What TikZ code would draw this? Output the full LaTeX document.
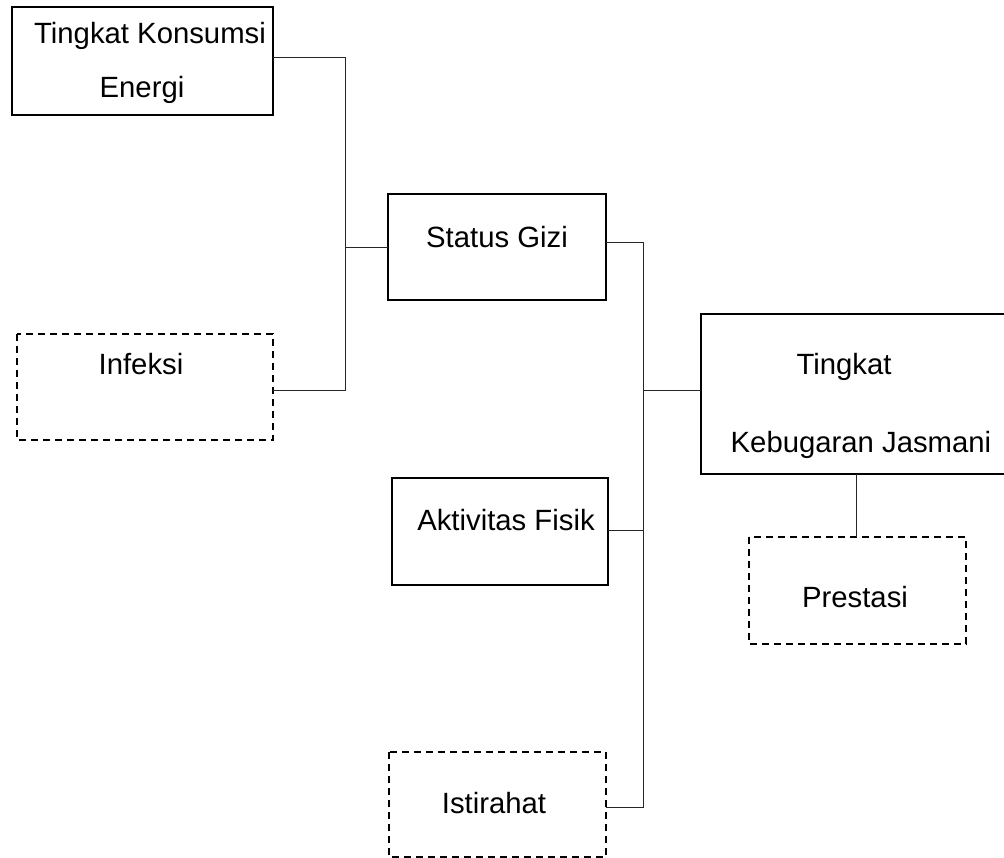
\documentclass[tikz,border=0pt]{standalone}
\usepackage{fontspec}
\setmainfont{Liberation Sans}
\begin{document}
\begin{tikzpicture}[x=1pt,y=-1pt,
  box/.style={draw=black,line width=1.6pt,inner sep=0pt,outer sep=0pt},
  dbox/.style={box,line width=1.5pt,dash pattern=on 7pt off 5pt},
  conn/.style={draw=black!85,line width=1pt},
  lbl/.style={anchor=base,inner sep=0pt,font=\fontsize{29.3}{34}\selectfont}]
\useasboundingbox (0,0) rectangle (1004,858);
% boxes
\draw[box] (12,7) rectangle (273,115);
\coordinate (tkeR) at (273,58);
\draw[dbox] (17,334) rectangle (273,440);
\coordinate (infR) at (273,391);
\draw[box] (388,194) rectangle (606,300);
\coordinate (sgL) at (388,248);
\coordinate (sgR) at (606,243);
\draw[box] (701,314) rectangle (1012,474);
\coordinate (tkjL) at (701,391);
\coordinate (tkjB) at (856,474);
\draw[dbox] (749,537) rectangle (966,644);
\coordinate (preT) at (856,537);
\draw[box] (392,478) rectangle (608,585);
\coordinate (afR) at (608,530);
\draw[dbox] (389,752) rectangle (606,857);
\coordinate (istR) at (606,807);
% junction coordinates
\coordinate (j1t) at (345,58);
\coordinate (j1m) at (345,248);
\coordinate (j1b) at (345,391);
\coordinate (j2t) at (643,243);
\coordinate (j2m) at (643,391);
\coordinate (j2a) at (643,530);
\coordinate (j2b) at (643,807);
% connectors
\draw[conn] (tkeR) -- (j1t) -- (j1b) -- (infR);
\draw[conn] (j1m) -- (sgL);
\draw[conn] (sgR) -- (j2t) -- (j2b) -- (istR);
\draw[conn] (j2m) -- (tkjL);
\draw[conn] (j2a) -- (afR);
\draw[conn] (tkjB) -- (preT);
% labels
\node[lbl] (t1) at (150,44) {Tingkat Konsumsi};
\node[lbl] (t2) at (142,98) {Energi};
\node[lbl] (t3) at (141,375) {Infeksi};
\node[lbl] (t4) at (497,248) {Status Gizi};
\node[lbl] (t5) at (844,375) {Tingkat};
\node[lbl] (t6) at (861,453) {Kebugaran Jasmani};
\node[lbl] (t7) at (855,607) {Prestasi};
\node[lbl] (t8) at (506,530) {Aktivitas Fisik};
\node[lbl] (t9) at (494,813) {Istirahat};
\end{tikzpicture}
\end{document}
